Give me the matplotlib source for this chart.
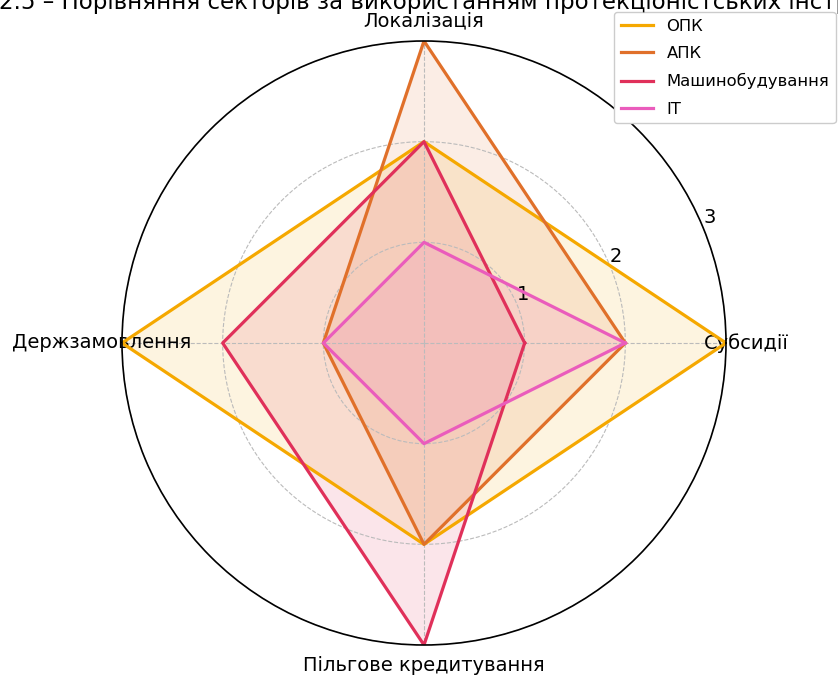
import numpy as np
import matplotlib.pyplot as plt

categories = ["Субсидії", "Локалізація", "Держзамовлення", "Пільгове кредитування"]
sectors = ["ОПК", "АПК", "Машинобудування", "IT"]
opk = [3, 2, 3, 2]
apk = [2, 3, 1, 2]
mash = [1, 2, 2, 3]
it = [2, 1, 1, 1]
colors = ["#f5a800", "#e0702a", "#e0305a", "#ea5cbc"]

angles = np.linspace(0, 2 * np.pi, len(categories), endpoint=False).tolist()
angles += angles[:1]

fig = plt.figure(figsize=(8.38, 6.75), dpi=100)
ax = fig.add_axes([122 / 838, 30 / 675, 604 / 838, 604 / 675], polar=True)

for name, vals, c in zip(sectors, [opk, apk, mash, it], colors):
    v = vals + vals[:1]
    ax.plot(angles, v, color=c, linewidth=2.3, label=name)
    ax.fill(angles, v, color=c, alpha=0.12)

ax.set_ylim(0, 3)
ax.set_yticks([1, 2, 3])
ax.set_yticklabels(["1", "2", "3"], fontsize=14)
ax.set_rlabel_position(22.5)
ax.set_xticks(angles[:-1])
ax.set_xticklabels(categories, fontsize=14)
ax.tick_params(axis="x", pad=4)
ax.grid(color="#bbbbbb", linestyle="--", linewidth=0.8)
ax.spines["polar"].set_linewidth(1.2)

ax.legend(loc="upper left", bbox_to_anchor=(614 / 838, 1 - 12 / 675), bbox_transform=fig.transFigure,
          fontsize=11.8, labelspacing=0.75, framealpha=1, borderaxespad=0)

fig.text(0.5, 0.996, "Рисунок 2.5 – Порівняння секторів за використанням протекціоністських інструментів",
         ha="center", va="center", fontsize=16.5)

fig.savefig("out.png", dpi=100)
